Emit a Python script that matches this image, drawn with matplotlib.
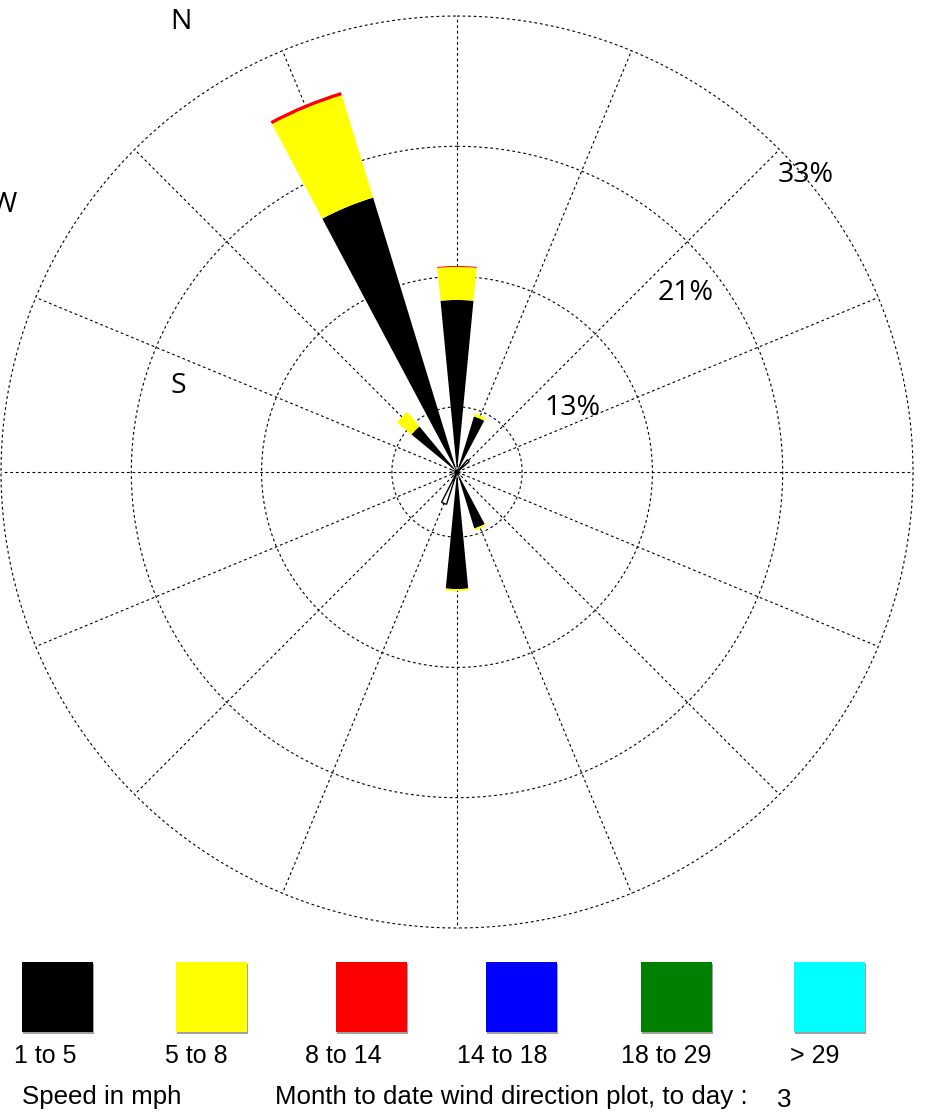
import numpy as np
import matplotlib
matplotlib.use("Agg")
import matplotlib.pyplot as plt
from matplotlib.patches import Rectangle

# ----------------- DATA -----------------
DIRECTIONS = ["N", "NNE", "NE", "ENE", "E", "ESE", "SE", "SSE",
              "S", "SSW", "SW", "WSW", "W", "WNW", "NW", "NNW"]
# percent of observations per speed class (mph)
SPEED_CLASSES = ["1 to 5", "5 to 8", "8 to 14", "14 to 18", "18 to 29", "> 29"]
CLASS_COLORS = ["#000000", "#ffff00", "#ff0000", "#0000ff", "#008000", "#00ffff"]

pct_1_5 = [12.45, 4.20, 0.00, 0.25, 0.30, 0.25, 0.35, 4.27,
           8.47, 0.00, 0.45, 0.40, 0.50, 0.40, 4.27, 20.77]
pct_5_8 = [2.39, 0.22, 0.00, 0.00, 0.00, 0.00, 0.00, 0.14,
           0.14, 0.00, 0.00, 0.00, 0.00, 0.00, 1.37, 7.74]
pct_8_14 = [0.07, 0.00, 0.00, 0.00, 0.00, 0.00, 0.00, 0.00,
            0.00, 0.00, 0.00, 0.00, 0.00, 0.00, 0.00, 0.24]
pct_14_18 = [0.0] * 16
pct_18_29 = [0.0] * 16
pct_over_29 = [0.0] * 16
# directions with only a trace (drawn as outline)
pct_trace = [0.00, 0.00, 1.16, 0.00, 0.00, 0.00, 0.00, 0.00,
             0.00, 2.46, 0.00, 0.00, 0.00, 0.00, 0.00, 0.00]

RING_LABELS = ["13%", "21%", "33%"]
COMPASS_LABELS = ["N", "W", "S"]
DAY = "3"

# ----------------- LAYOUT -----------------
W, H = 928, 1120
CX, CY, R = 457, 472, 456       # rose centre / radius in pixels
RMAX = 33.0                     # percent at outer ring
BAR_WIDTH = np.deg2rad(11)


def fx(x):
    return x / W


def fy(y):
    return 1 - y / H


fig = plt.figure(figsize=(W / 100, H / 100), dpi=100)
fig.patch.set_facecolor("white")

ax = fig.add_axes([fx(CX - R), (H - CY - R) / H, 2 * R / W, 2 * R / H],
                  projection="polar")
ax.set_theta_zero_location("N")
ax.set_theta_direction(-1)
ax.set_ylim(0, RMAX)
ax.set_axis_off()

# grid: rings and 16 spokes, short black dashes
grid_kw = dict(color="black", lw=0.8, linestyle=(0, (2.5, 2.5)), zorder=1,
               clip_on=False)
tt = np.linspace(0, 2 * np.pi, 721)
for frac in (1 / 7, 3 / 7, 5 / 7, 1.0):
    ax.plot(tt, np.full_like(tt, RMAX * frac), **grid_kw)
theta = np.deg2rad(np.arange(16) * 22.5)
for t in theta:
    ax.plot([t, t], [0, RMAX], **grid_kw)

# stacked wind bars
series = [pct_1_5, pct_5_8, pct_8_14, pct_14_18, pct_18_29, pct_over_29]
bottom = np.zeros(16)
for vals, col in zip(series, CLASS_COLORS):
    vals = np.array(vals)
    mask = vals > 0
    if mask.any():
        ax.bar(theta[mask], vals[mask], width=BAR_WIDTH, bottom=bottom[mask],
               color=col, edgecolor="none", zorder=3)
    bottom += vals

trace = np.array(pct_trace)
m = trace > 0
ax.bar(theta[m], trace[m], width=np.deg2rad(9), bottom=0,
       facecolor="white", edgecolor="black", lw=1.0, zorder=4)

# labels on the rose
lab_font = dict(family=["Open Sans", "DejaVu Sans"], fontsize=20.5, color="black",
                ha="center", va="center")
for txt, (x, y) in zip(RING_LABELS, [(572, 408), (686, 293), (806, 175)]):
    fig.text(fx(x), fy(y), txt, **lab_font)
for txt, (x, y) in zip(COMPASS_LABELS, [(181, 22), (4, 205), (178, 386)]):
    fig.text(fx(x), fy(y), txt, **lab_font)

# legend swatches
sq_left = [22, 176, 336, 486, 641, 794]
sq_top, sq_w, sq_h = 962, 71, 70
lbl_x = [45, 196, 343, 502, 666, 815]
leg_font = dict(family=["Liberation Sans", "DejaVu Sans"], fontsize=18,
                color="black")
foot_font = dict(leg_font, fontsize=18.6)
for name, col, x0, lx in zip(SPEED_CLASSES, CLASS_COLORS, sq_left, lbl_x):
    fig.add_artist(Rectangle((fx(x0 + 1.5), fy(sq_top + sq_h + 1.5)),
                             sq_w / W, sq_h / H, transform=fig.transFigure,
                             facecolor="#a0a0a0", edgecolor="none"))
    fig.add_artist(Rectangle((fx(x0), fy(sq_top + sq_h)),
                             sq_w / W, sq_h / H, transform=fig.transFigure,
                             facecolor=col, edgecolor="none"))
    fig.text(fx(lx), fy(1056), name, ha="center", va="center", **leg_font)

fig.text(fx(22), fy(1097), "Speed in mph", ha="left", va="center", **foot_font)
fig.text(fx(275), fy(1097), "Month to date wind direction plot, to day :",
         ha="left", va="center", **foot_font)
fig.text(fx(777), fy(1100), DAY, ha="left", va="center", **foot_font)

fig.savefig("out.png", dpi=100, facecolor="white")
